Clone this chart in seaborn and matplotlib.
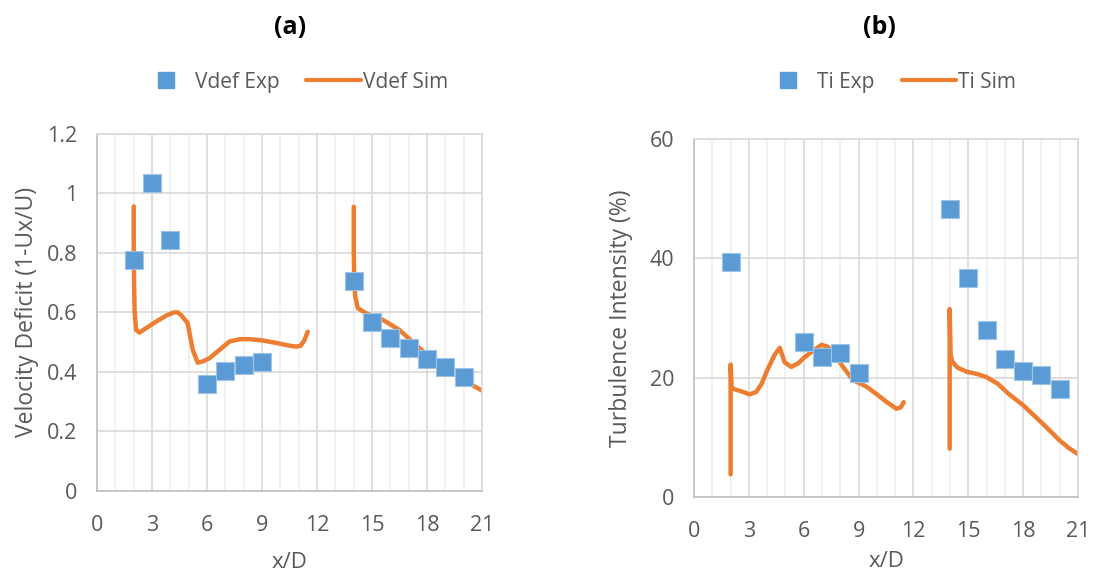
import numpy as np
import pandas as pd
import matplotlib.pyplot as plt
import seaborn as sns
from matplotlib.lines import Line2D
from matplotlib.ticker import MultipleLocator, FormatStrFormatter

# (a) velocity deficit, experiment
vdef_exp_x = [2, 3, 4, 6, 7, 8, 9, 14, 15, 16, 17, 18, 19, 20]
vdef_exp_y = [0.775, 1.035, 0.842, 0.36, 0.404, 0.423, 0.432, 0.704, 0.566, 0.513, 0.479, 0.442, 0.415, 0.384]

# (a) velocity deficit, simulation (two turbines)
vdef_sim1_x = [2.0, 2.0, 2.02, 2.05, 2.13, 2.31, 2.7, 3.2, 3.8, 4.2, 4.4, 4.6, 4.94, 5.22, 5.49, 5.8, 6.13, 6.6, 7.22, 7.8, 8.31, 9.0, 9.8, 10.5, 10.86, 11.1, 11.3, 11.49]
vdef_sim1_y = [0.956, 0.85, 0.70, 0.60, 0.541, 0.532, 0.548, 0.568, 0.59, 0.60, 0.60, 0.59, 0.564, 0.474, 0.431, 0.436, 0.446, 0.47, 0.502, 0.51, 0.51, 0.506, 0.497, 0.488, 0.485, 0.488, 0.505, 0.535]
vdef_sim2_x = [14.0, 14.0, 14.03, 14.08, 14.22, 14.67, 15.58, 16.49, 17.4, 18.3, 19.2, 20.13, 21.0]
vdef_sim2_y = [0.955, 0.80, 0.70, 0.653, 0.614, 0.597, 0.575, 0.541, 0.49, 0.44, 0.404, 0.367, 0.337]

# (b) turbulence intensity, experiment
ti_exp_x = [2, 6, 7, 8, 9, 14, 15, 16, 17, 18, 19, 20]
ti_exp_y = [39.3, 26.0, 23.5, 24.2, 20.8, 48.2, 36.7, 28.0, 23.2, 21.2, 20.4, 18.1]

# (b) turbulence intensity, simulation
ti_sim1_x = [2.0, 2.0, 2.06, 2.5, 3.04, 3.4, 3.7, 4.0, 4.4, 4.69, 4.95, 5.32, 5.7, 6.0, 6.5, 6.97, 7.3, 7.7, 8.1, 8.69, 9.43, 10.0, 10.5, 11.07, 11.3, 11.47]
ti_sim1_y = [3.8, 22.2, 18.2, 17.8, 17.2, 17.6, 19.0, 21.2, 23.8, 25.0, 22.6, 21.8, 22.4, 23.3, 24.5, 25.5, 25.2, 24.0, 22.0, 19.6, 18.5, 17.2, 16.0, 14.8, 15.0, 15.9]
ti_sim2_x = [13.98, 13.98, 14.03, 14.1, 14.4, 14.9, 15.5, 15.99, 16.6, 17.2, 17.99, 19.0, 19.99, 20.5, 21.0]
ti_sim2_y = [8.1, 31.5, 24.1, 22.8, 21.7, 21.0, 20.6, 20.1, 19.0, 17.3, 15.4, 12.5, 9.5, 8.2, 7.2]

blue = "#5b9bd5"
orange = "#ed7d31"
grey = "#595959"

sns.set_theme(style="white")
plt.rcParams["font.family"] = ["Open Sans", "DejaVu Sans"]

fig = plt.figure(figsize=(10.94, 5.79), dpi=100)
ax1 = fig.add_axes([0.0887, 0.152, 0.352, 0.617])
ax2 = fig.add_axes([0.6344, 0.1416, 0.351, 0.6184])


def style_axis(ax, ymax, ystep, ylabel, tpad, xpad, ypad):
    ax.set_xlim(0, 21)
    ax.set_ylim(0, ymax)
    ax.xaxis.set_major_locator(MultipleLocator(3))
    ax.xaxis.set_minor_locator(MultipleLocator(1))
    ax.yaxis.set_major_locator(MultipleLocator(ystep))
    ax.yaxis.set_major_formatter(FormatStrFormatter("%g"))
    ax.grid(which="major", color="#d9d9d9", linewidth=1.2)
    ax.grid(which="minor", axis="x", color="#efefef", linewidth=1.2)
    ax.set_axisbelow(True)
    for s in ax.spines.values():
        s.set_color("#d9d9d9")
        s.set_linewidth(1.2)
    ax.spines["left"].set_color("#bfbfbf")
    ax.spines["bottom"].set_color("#bfbfbf")
    ax.tick_params(which="both", length=0, labelsize=15.5, labelcolor=grey)
    ax.tick_params(axis="x", pad=tpad)
    ax.tick_params(axis="y", pad=14)
    ax.set_xlabel("x/D", fontsize=16, color=grey, labelpad=xpad)
    ax.set_ylabel(ylabel, fontsize=16.5, color=grey, labelpad=ypad)


def draw(ax, ex, ey, segs):
    for sx, sy in segs:
        d = pd.DataFrame({"x": sx, "y": sy})
        sns.lineplot(data=d, x="x", y="y", ax=ax, sort=False, estimator=None,
                     color=orange, linewidth=3.2, zorder=2)
    e = pd.DataFrame({"x": ex, "y": ey})
    sns.scatterplot(data=e, x="x", y="y", ax=ax, marker="s", s=150, color=blue,
                    edgecolor="#9dc3e6", linewidth=0.8, zorder=3)


draw(ax1, vdef_exp_x, vdef_exp_y, [(vdef_sim1_x, vdef_sim1_y), (vdef_sim2_x, vdef_sim2_y)])
draw(ax2, ti_exp_x, ti_exp_y, [(ti_sim1_x, ti_sim1_y), (ti_sim2_x, ti_sim2_y)])

style_axis(ax1, 1.2, 0.2, "Velocity Deficit (1-Ux/U)", 17, 12, 6)
style_axis(ax2, 60, 20, "Turbulence Intensity (%)", 17, 7, 12)

fig.text(0.265, 0.952, "(a)", ha="center", va="center", fontsize=18, fontweight="bold", color="black")
fig.text(0.804, 0.952, "(b)", ha="center", va="center", fontsize=18, fontweight="bold", color="black")

for names, cx in [(("Vdef Exp", "Vdef Sim"), 0.268), (("Ti Exp", "Ti Sim"), 0.812)]:
    h = [Line2D([], [], marker="s", linestyle="none", color=blue, markersize=11),
         Line2D([], [], color=orange, linewidth=3)]
    fig.legend(h, names, loc="center", bbox_to_anchor=(cx, 0.858), ncol=2, frameon=False,
               fontsize=15, labelcolor=grey, handlelength=2.6, columnspacing=1.3,
               handletextpad=0.1)

fig.savefig("out.png", dpi=100)
